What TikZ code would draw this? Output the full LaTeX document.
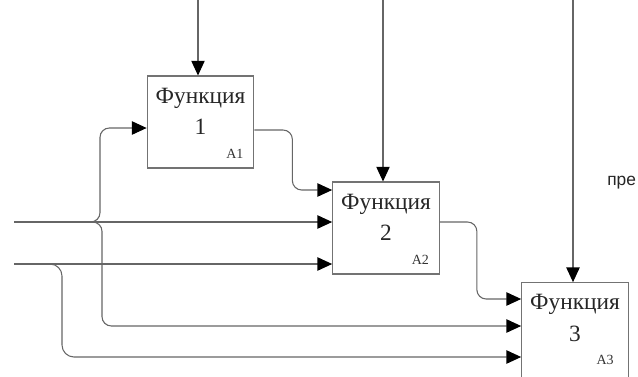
\documentclass[tikz,border=0pt]{standalone}
\usepackage{fontspec}
\setmainfont{Liberation Serif}
\newfontfamily\notefont{Liberation Sans}
\usetikzlibrary{arrows.meta,positioning}

\begin{document}
\begin{tikzpicture}[x=0.75pt,y=-0.75pt,>={Triangle[length=11pt,width=10pt,color=black]},
  func/.style={draw=black!55,line width=0.8pt,fill=white,minimum width=80pt,minimum height=69pt,inner sep=0pt},
  ftitle/.style={align=center,inner sep=0pt,text=black!85,font=\fontsize{17.5}{23.5}\selectfont},
  tag/.style={inner sep=0pt,text=black!80,font=\fontsize{10.5}{12}\selectfont},
  flow/.style={->,draw=black!60,line width=0.8pt}]
\clip (0,0) rectangle (638,376);
\fill[white] (0,0) rectangle (638,376);

% function blocks
\node[func] (f1) at (200.5,122) {};
\node[func] (f2) at (386,228) {};
\node[func,minimum height=80pt] (f3) at (575,336) {};
\node[ftitle,below=9pt of f1.north] (t1) {Функция\\1};
\node[ftitle,below=9pt of f2.north] (t2) {Функция\\2};
\node[ftitle,below=9pt of f3.north] (t3) {Функция\\3};
\node[tag,above left=7pt and 8pt of f1.south east] (a1) {A1};
\node[tag,above left=7pt and 8pt of f2.south east] (a2) {A2};
\node[tag,anchor=base east] (a3) at (614,364) {A3};
\node[anchor=base west,inner sep=0pt,text=black!85,font=\notefont\fontsize{13}{15}\selectfont] (pre) at (607,185) {пре};

% free ends
\coordinate (c1) at (198,0);
\coordinate (c2) at (383,0);
\coordinate (c3) at (573,0);
\coordinate (in1) at (14,222);
\coordinate (in2) at (14,264);
\coordinate (j1) at (90,222);

% controls from above
\draw[flow] (c1) -- (c1 |- f1.north);
\draw[flow] (c2) -- (c2 |- f2.north);
\draw[flow] (c3) -- (c3 |- f3.north);

% inputs
\draw[flow] (in1) -- (in1 -| f2.west);
\draw[flow] (in2) -- (in2 -| f2.west);
\draw[flow,rounded corners=7pt] (j1) -- ++(10,0) |- (f1.west |- 0,128);
\draw[flow,rounded corners=7pt] (j1) -- ++(12,0) |- (f3.west |- 0,326);
\draw[flow,rounded corners=9pt] (in2) -- ++(48,0) |- (f3.west |- 0,357);

% outputs passed on
\draw[flow,rounded corners=7pt] (f1.east |- 0,130) -- ++(38,0) |- (f2.west |- 0,190);
\draw[flow,rounded corners=7pt] (f2.east |- 0,222) -- ++(37,0) |- (f3.west |- 0,299);
\end{tikzpicture}
\end{document}
